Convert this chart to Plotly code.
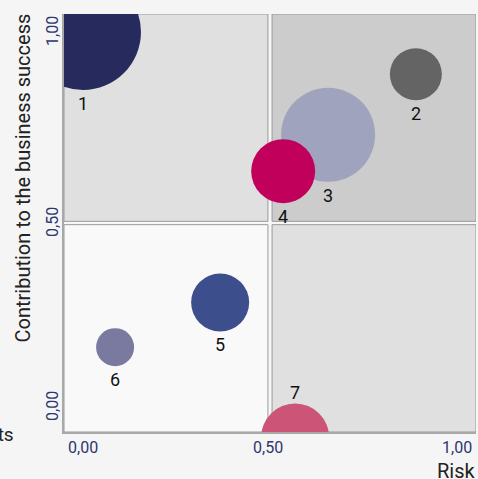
import plotly.graph_objects as go

# ---- data ----
labels = ["1", "2", "3", "4", "5", "6", "7"]
risk = [0.046, 0.854, 0.641, 0.532, 0.379, 0.124, 0.561]
contribution = [0.957, 0.856, 0.711, 0.624, 0.310, 0.203, -0.013]
bubble_size = [116, 52, 94, 64, 58, 38, 68]
colors = ["#262a5c", "#646464", "#a0a3bd", "#c0005a", "#3d4e8c", "#7a7aa0", "#cc5577"]
label_above = [False, False, False, False, False, False, True]
tick_vals = [0, 0.5, 1]
tick_text = ["0,00", "0,50", "1,00"]

FONT = "Roboto"
TICK_COLOR = "#2e3570"
W, H = 478, 479
ML, MR, MT, MB = 64, 2, 14, 47
PLOT_H = H - MT - MB
Y_RANGE = [0, 1]

fig = go.Figure()

fig.add_trace(go.Scatter(
    x=risk, y=contribution, mode="markers",
    marker=dict(size=bubble_size, sizemode="diameter", color=colors,
                opacity=1, line=dict(width=0)),
    cliponaxis=True, hoverinfo="skip", showlegend=False,
))

# quadrants
quads = [
    (0.0, 0.495, 0.504, 1.0, "#e0e0e0"),
    (0.505, 1.0, 0.504, 1.0, "#cccccc"),
    (0.0, 0.495, 0.0, 0.496, "#f9f9f9"),
    (0.505, 1.0, 0.0, 0.496, "#e0e0e0"),
]
shapes = []
for x0, x1, y0, y1, c in quads:
    shapes.append(dict(type="rect", xref="x", yref="y", x0=x0, x1=x1, y0=y0, y1=y1,
                       fillcolor=c, line=dict(color="#999999", width=1), layer="below"))

annotations = []
# bubble labels
px_per_unit = PLOT_H / (Y_RANGE[1] - Y_RANGE[0])
for lx, ly, lab, sz, above in zip(risk, contribution, labels, bubble_size, label_above):
    anchor_y = min(max(ly, Y_RANGE[0]), Y_RANGE[1])
    off = (ly - anchor_y) * px_per_unit
    r = sz / 2
    if above:
        annotations.append(dict(x=lx, y=anchor_y, xref="x", yref="y", text=lab, showarrow=False,
                                xanchor="center", yanchor="bottom", yshift=off + r - 2,
                                font=dict(family=FONT, size=18, color="#111111")))
    else:
        annotations.append(dict(x=lx, y=anchor_y, xref="x", yref="y", text=lab, showarrow=False,
                                xanchor="center", yanchor="top", yshift=off - r - 1,
                                font=dict(family=FONT, size=18, color="#111111")))

# x tick labels
xanch = ["left", "center", "right"]
xsh = [2, -2, -2]
for v, t, a, s in zip(tick_vals, tick_text, xanch, xsh):
    annotations.append(dict(x=v, y=0, xref="x", yref="paper", text=t, showarrow=False,
                            xanchor=a, yanchor="top", xshift=s, yshift=-4,
                            font=dict(family=FONT, size=16, color=TICK_COLOR)))
# y tick labels (rotated)
yanch = ["bottom", "middle", "top"]
ysh = [9, 1, 0]
for v, t, a, s in zip(tick_vals, tick_text, yanch, ysh):
    annotations.append(dict(x=0, y=v, xref="paper", yref="y", text=t, showarrow=False,
                            xanchor="center", yanchor=a, xshift=-12, yshift=s, textangle=-90,
                            font=dict(family=FONT, size=16, color=TICK_COLOR)))
# axis titles
annotations.append(dict(x=1, y=0, xref="paper", yref="paper", text="Risk", showarrow=False,
                        xanchor="right", yanchor="top", xshift=2, yshift=-25,
                        font=dict(family=FONT, size=20, color="#222222")))
annotations.append(dict(x=0, y=1, xref="paper", yref="paper",
                        text="Contribution to the business success", showarrow=False,
                        xanchor="center", yanchor="top", xshift=-42, yshift=2, textangle=-90,
                        font=dict(family=FONT, size=20, color="#222222")))
annotations.append(dict(x=0, y=0, xref="paper", yref="paper", text="Projects", showarrow=False,
                        xanchor="right", yanchor="middle", xshift=-48, yshift=-2,
                        font=dict(family=FONT, size=19, color="#222222")))

fig.update_layout(
    width=W, height=H,
    margin=dict(l=ML, r=MR, t=MT, b=MB),
    paper_bgcolor="#f5f5f5", plot_bgcolor="#f7f7f7",
    shapes=shapes, annotations=annotations,
    xaxis=dict(range=[0, 1], showgrid=False, zeroline=False, showticklabels=False,
               ticks="", showline=True, linecolor="#a8a8a8", linewidth=2, fixedrange=True),
    yaxis=dict(range=Y_RANGE, showgrid=False, zeroline=False, showticklabels=False,
               ticks="", showline=True, linecolor="#a8a8a8", linewidth=2, fixedrange=True),
    font=dict(family=FONT),
)

fig.write_html("out.html", config={"displayModeBar": False},
               post_script="document.body.style.margin='0';document.body.style.padding='0';"
                           "document.body.style.overflow='hidden';"
                           "document.body.style.background='#f5f5f5';")
